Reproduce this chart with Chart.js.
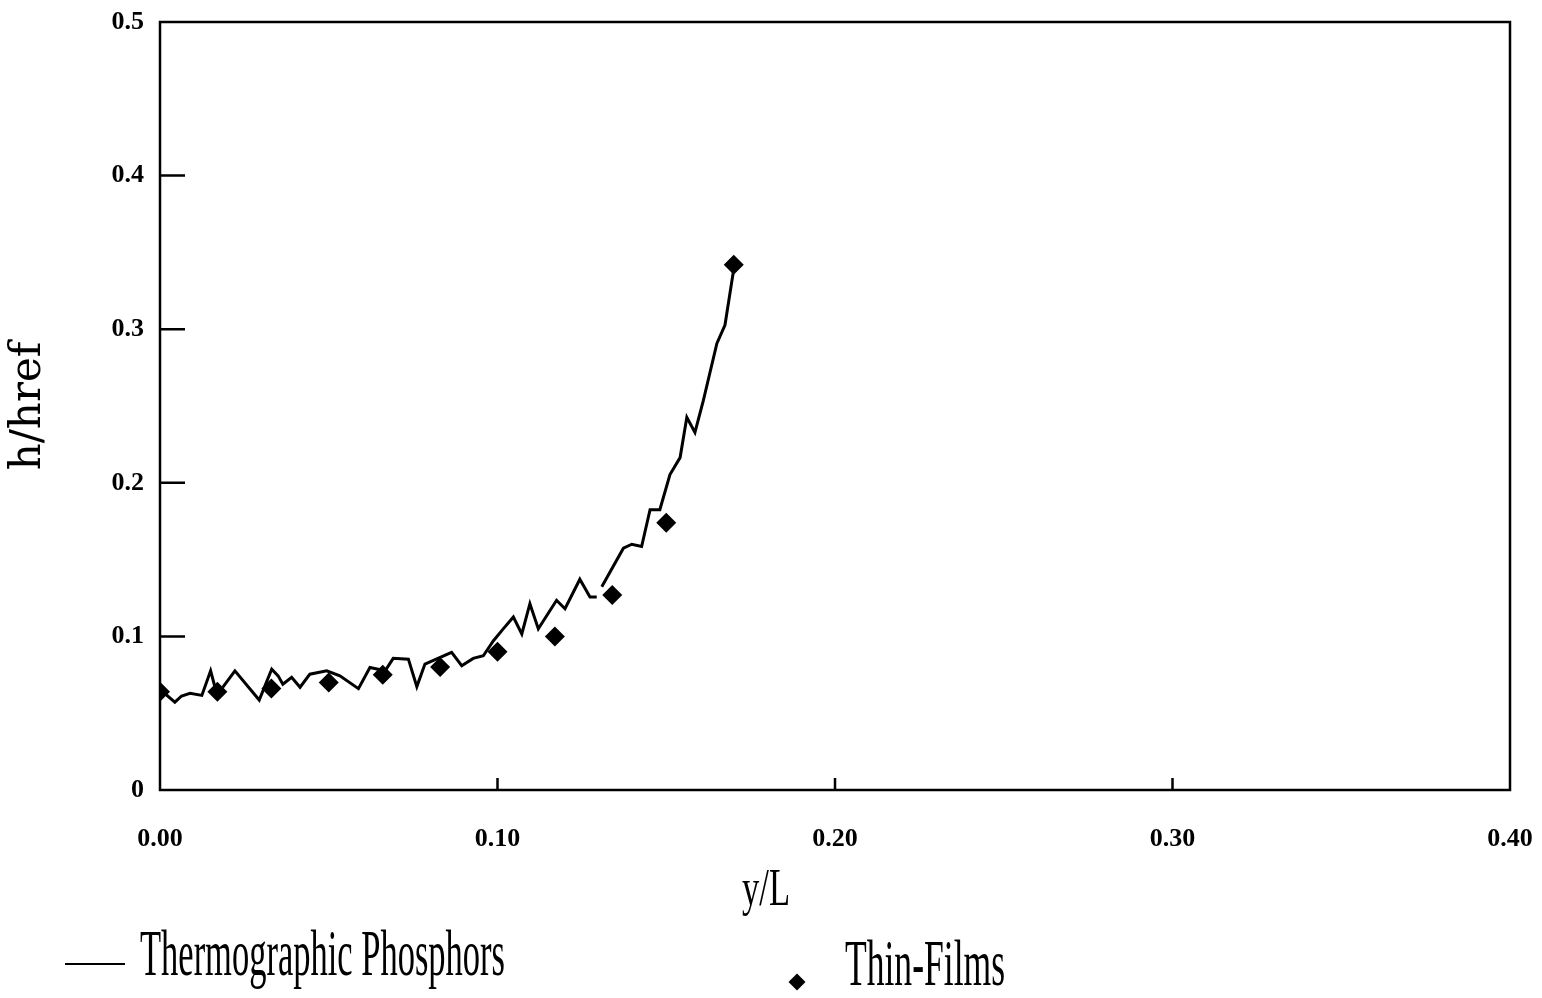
<!DOCTYPE html>
<html>
<head>
<meta charset="utf-8">
<script src="https://cdn.jsdelivr.net/npm/chart.js@4.4.0/dist/chart.umd.min.js"></script>
<style>
html, body { margin: 0; padding: 0; background: #fff; }
#wrap { position: relative; width: 1542px; height: 998px; overflow: hidden; }
#chart { position: absolute; left: 0; top: 0; }
.lbl { position: absolute; white-space: nowrap; font-family: 'Liberation Serif', 'DejaVu Serif', serif; color: #000; line-height: 1; transform-origin: 0 0; }
</style>
</head>
<body>
<div id="wrap">
  <canvas id="chart" width="1542" height="998"></canvas>
  <div class="lbl" id="xTitle">y/L</div>
  <div id="legLine" style="position:absolute;left:65px;top:963px;width:60px;height:2px;background:#000"></div>
  <div class="lbl" id="leg1">Thermographic Phosphors</div>
  <div id="legDiamond" style="position:absolute;left:791px;top:976px;width:12px;height:12px;background:#000;transform:rotate(45deg)"></div>
  <div class="lbl" id="leg2">Thin-Films</div>
</div>
<script>
// thermographic phosphors trace (y/L, h/href), null = break in the trace
const phosphorX = [0.0005, 0.0044, 0.0064, 0.0089, 0.0124, 0.0150, 0.0163, 0.0178, 0.0222, 0.0294,
  0.0331, 0.0350, 0.0364, 0.0390, 0.0415, 0.0444, 0.0494, 0.0533, 0.0588, 0.0622,
  0.0667, 0.0691, 0.0736, 0.0761, 0.0785, 0.0864, 0.0894, 0.0928, 0.0958, 0.0988,
  0.1017, 0.1047, 0.1072, 0.1096, 0.1121, 0.1175, 0.1200, 0.1244, 0.1274, 0.1294,
  0.1301, 0.1309, 0.1373, 0.1398, 0.1427, 0.1452, 0.1481, 0.1511, 0.1541, 0.1561,
  0.1585, 0.1610, 0.1650, 0.1674, 0.1699];
const phosphorY = [0.0645, 0.0572, 0.0612, 0.0630, 0.0616, 0.0776, 0.0669, 0.0645, 0.0776, 0.0586,
  0.0787, 0.0743, 0.0689, 0.0734, 0.0669, 0.0754, 0.0776, 0.0743, 0.0660, 0.0798,
  0.0776, 0.0857, 0.0852, 0.0673, 0.0820, 0.0896, 0.0809, 0.0857, 0.0874, 0.0972,
  0.1049, 0.1126, 0.1016, 0.1213, 0.1049, 0.1235, 0.1180, 0.1372, 0.1257, 0.1257,
  null, 0.1323, 0.1574, 0.1600, 0.1585, 0.1825, 0.1825, 0.2054, 0.2164, 0.2426,
  0.2328, 0.2536, 0.2907, 0.3027, 0.3377];

// thin-film gauge points
const filmX = [0.000, 0.017, 0.033, 0.050, 0.066, 0.083, 0.100, 0.117, 0.134, 0.150, 0.170];
const filmY = [0.064, 0.064, 0.066, 0.070, 0.075, 0.080, 0.090, 0.100, 0.127, 0.174, 0.342];

const xTicks = [0, 0.1, 0.2, 0.3, 0.4];
const yTicks = [0, 0.1, 0.2, 0.3, 0.4, 0.5];

const phosphorPts = phosphorX.map((x, i) => ({ x: x, y: phosphorY[i] }));
const filmPts = filmX.map((x, i) => ({ x: x, y: filmY[i] }));

const tickFont = { family: "'Liberation Sans Narrow', 'Liberation Serif', serif", size: 26, weight: 'bold' };

// box round the plot plus inward tick marks
const framePlugin = {
  id: 'frame',
  afterDraw(chart) {
    const ctx = chart.ctx, a = chart.chartArea;
    const xs = chart.scales.x, ys = chart.scales.y;
    ctx.save();
    ctx.strokeStyle = '#000';
    ctx.lineWidth = 2.5;
    ctx.strokeRect(a.left, a.top, a.right - a.left, a.bottom - a.top);
    ctx.beginPath();
    yTicks.slice(1, -1).forEach(v => {
      const py = ys.getPixelForValue(v);
      ctx.moveTo(a.left, py);
      ctx.lineTo(a.left + 25, py);
    });
    xTicks.slice(1, -1).forEach(v => {
      const px = xs.getPixelForValue(v);
      ctx.moveTo(px, a.bottom);
      ctx.lineTo(px, a.bottom - 12);
    });
    ctx.stroke();
    ctx.restore();
  }
};

new Chart(document.getElementById('chart'), {
  type: 'line',
  data: {
    datasets: [
      {
        label: 'Thermographic Phosphors',
        data: phosphorPts,
        borderColor: '#000',
        borderWidth: 3,
        pointRadius: 0,
        tension: 0,
        spanGaps: false
      },
      {
        label: 'Thin-Films',
        data: filmPts,
        showLine: false,
        pointStyle: 'rectRot',
        pointRadius: 10,
        backgroundColor: '#000',
        borderColor: '#000',
        borderWidth: 0
      }
    ]
  },
  options: {
    responsive: false,
    animation: false,
    layout: { padding: { left: 0, right: 32, top: 22, bottom: 0 } },
    plugins: { legend: { display: false }, tooltip: { enabled: false } },
    scales: {
      x: {
        type: 'linear',
        min: 0, max: 0.4,
        afterBuildTicks: s => { s.ticks = xTicks.map(v => ({ value: v })); },
        afterFit: s => { s.height = 998 - 790; s.paddingLeft = 0; s.paddingRight = 0; },
        grid: { display: false, drawTicks: false },
        border: { display: false },
        ticks: {
          color: '#000',
          font: tickFont,
          padding: 34,
          maxRotation: 0,
          callback: v => Number(v).toFixed(2)
        }
      },
      y: {
        type: 'linear',
        min: 0, max: 0.5,
        afterBuildTicks: s => { s.ticks = yTicks.map(v => ({ value: v })); },
        afterFit: s => { s.width = 160; s.paddingTop = 0; s.paddingBottom = 0; },
        grid: { display: false, drawTicks: false },
        border: { display: false },
        title: {
          display: true,
          text: 'h/href',
          color: '#000',
          font: { family: "'DejaVu Serif', 'Liberation Serif', serif", size: 42 },
          padding: { top: 4, bottom: 4 }
        },
        ticks: {
          color: '#000',
          font: tickFont,
          padding: 16,
          callback: v => (v === 0 ? '0' : Number(v).toFixed(1))
        }
      }
    }
  },
  plugins: [framePlugin]
});

// condensed serif labels under the plot
function fitLabel(id, left, baseline, width, size) {
  const el = document.getElementById(id);
  el.style.fontSize = size + 'px';
  el.style.left = left + 'px';
  el.style.top = (baseline - 0.8375 * size) + 'px';
  const w = el.getBoundingClientRect().width;
  el.style.transform = 'scaleX(' + (width / w) + ')';
}
fitLabel('xTitle', 742, 905, 48, 53);
fitLabel('leg1', 140, 975, 365, 66);
fitLabel('leg2', 845, 985, 160, 66);
</script>
</body>
</html>
